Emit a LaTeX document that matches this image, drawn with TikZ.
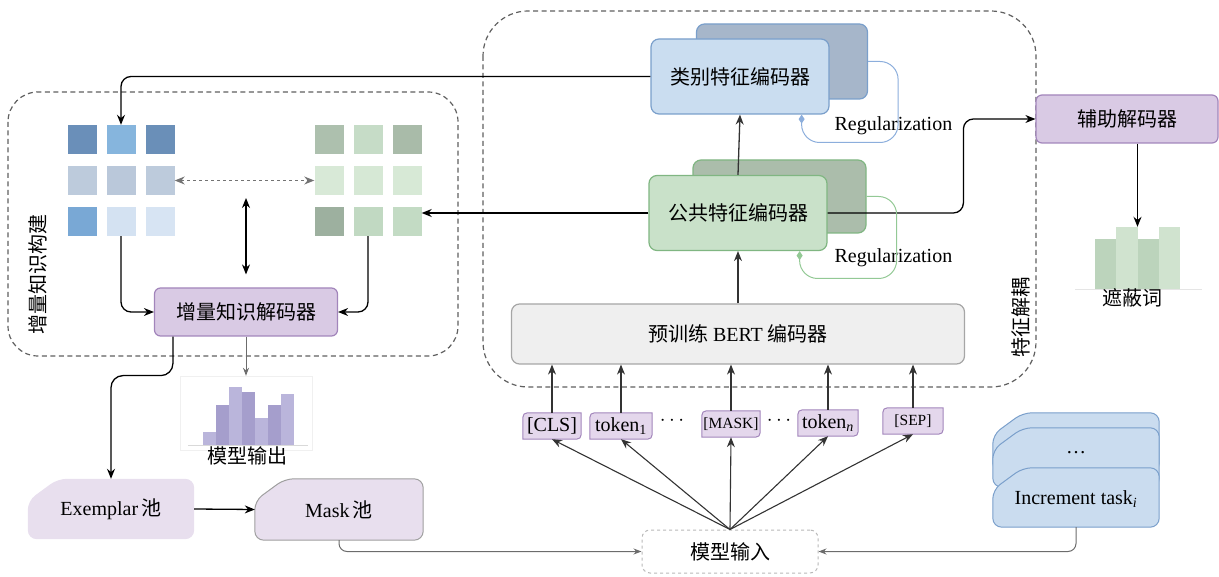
\documentclass[tikz,border=0pt]{standalone}
\usepackage{fontspec}
\setmainfont{Liberation Serif}
\newfontfamily\cjk{Noto Sans CJK SC}
\usepackage{xcolor}
\usepackage{tikz}
\usetikzlibrary{arrows.meta,positioning,calc,backgrounds}

\definecolor{clslight}{HTML}{CADDF0}
\definecolor{clsdark}{HTML}{A6B6CA}
\definecolor{clsline}{HTML}{7A9FCB}
\definecolor{comlight}{HTML}{C9E1C9}
\definecolor{comdark}{HTML}{ABBDAB}
\definecolor{comline}{HTML}{80B682}
\definecolor{decfill}{HTML}{D9CAE4}
\definecolor{decline}{HTML}{A285BB}
\definecolor{tokfill}{HTML}{E4D7EC}
\definecolor{poolfill}{HTML}{E8DFEE}
\definecolor{taskfill}{HTML}{CADCEF}
\definecolor{bertfill}{HTML}{EFEFEF}
\definecolor{regblue}{HTML}{8CAEDC}
\definecolor{reggreen}{HTML}{93C995}
\definecolor{histA}{HTML}{BAB5DB}
\definecolor{histB}{HTML}{A59ECC}
\definecolor{mhA}{HTML}{BCD4BC}
\definecolor{mhB}{HTML}{D0E3CF}
\definecolor{lb11}{HTML}{6A8FB9}
\definecolor{lb12}{HTML}{86B5DD}
\definecolor{lb13}{HTML}{6A8FB8}
\definecolor{lb21}{HTML}{BDCBDC}
\definecolor{lb22}{HTML}{BAC8DA}
\definecolor{lb23}{HTML}{BDCBDC}
\definecolor{lb31}{HTML}{79A8D5}
\definecolor{lb32}{HTML}{D4E2F2}
\definecolor{lb33}{HTML}{D7E4F3}
\definecolor{gr11}{HTML}{ADC0AE}
\definecolor{gr12}{HTML}{C6DCC7}
\definecolor{gr13}{HTML}{A9BBA9}
\definecolor{gr21}{HTML}{D8E9D7}
\definecolor{gr22}{HTML}{D6E8D5}
\definecolor{gr23}{HTML}{D7E9D6}
\definecolor{gr31}{HTML}{9DB09F}
\definecolor{gr32}{HTML}{C1D9C2}
\definecolor{gr33}{HTML}{C3DBC4}

\begin{document}
\begin{tikzpicture}[
  x=1pt,y=-1pt,
  every node/.style={font=\fontsize{20}{23}\selectfont,align=center},
  group/.style={draw=gray!75!black,dash pattern=on 5pt off 3.5pt,line width=1.2pt},
  encbox/.style={draw,rounded corners=8pt,line width=1.2pt,minimum width=178pt,minimum height=75pt},
  decbox/.style={draw=decline,fill=decfill,rounded corners=6pt,line width=1.2pt,minimum height=48pt},
  cell/.style={minimum size=29pt,inner sep=0pt},
  tokbox/.style={minimum height=26pt,inner sep=1pt},
  tokshape/.style={draw=decline,fill=tokfill,line width=1pt},
  poolshape/.style={rounded corners=9pt},
  arrow/.style={-{Stealth[length=10pt,width=8pt]},line width=1.3pt},
  garrow/.style={-{Stealth[length=8pt,width=6pt]},line width=1pt,draw=gray!85!black},
  reg/.style={line width=1pt,rounded corners=18pt,-{Diamond[length=9pt,width=6pt]}}
]
\useasboundingbox (0,0) rectangle (1219,577);

\draw[group,rounded corners=30pt] (8,92) rectangle (458,356);
\draw[group,rounded corners=45pt] (483,11) rectangle (1036,387);
\node[rotate=90] (lbuild) at (38,275) {\cjk 增量知识构建};
\node[rotate=90] (lsplit) at (1021,318) {\cjk 特征解耦};

\foreach \r in {1,2,3}
  \foreach \c in {1,2,3} {
    \node[cell,fill=lb\r\c] (lg-\r-\c) at ({43+39*\c},{98.5+41*\r}) {};
    \node[cell,fill=gr\r\c] (rg-\r-\c) at ({290+39*\c},{98.5+41*\r}) {};
  }

\node[decbox,minimum width=183pt] (dec) at (246,312) {\cjk 增量知识解码器};

\node[encbox,draw=clsline,fill=clsdark,minimum width=171pt] (clsback) at (782,61.5) {};
\node[encbox,draw=clsline,fill=clslight] (clsenc) at (740,76.5) {\cjk 类别特征编码器};
\node[encbox,draw=comline,fill=comdark,minimum width=173pt,minimum height=73pt] (comback) at (779.5,196.5) {};
\node[encbox,draw=comline,fill=comlight] (comenc) at (738,213) {\cjk 公共特征编码器};
\node[anchor=west] (regA) at (831,126) {Regularization};
\node[anchor=west] (regB) at (831,258) {Regularization};

\node[draw=gray!70,fill=bertfill,rounded corners=8pt,line width=1.2pt,minimum width=453pt,minimum height=60pt] (bert) at (738,334) {{\cjk 预训练} BERT {\cjk 编码器}};

\node[tokbox,minimum width=58pt] (tcls) at (552,426) {[CLS]};
\node[tokbox,minimum width=62pt] (tone) at (621,426) {token\textsubscript{1}};
\node (dotsA) at (672,421) {$\cdots$};
\node[tokbox,minimum width=58pt,font=\fontsize{15.5}{18}\selectfont] (tmask) at (731,424) {[MASK]};
\node (dotsB) at (779,421) {$\cdots$};
\node[tokbox,minimum width=60pt] (tn) at (828,423) {token\textsubscript{\itshape n}};
\node[tokbox,minimum width=60pt,font=\fontsize{15.5}{18}\selectfont] (tsep) at (913,421) {[SEP]};

\node[draw=gray!55,dashed,rounded corners=8pt,line width=1pt,minimum width=176pt,minimum height=43pt] (input) at (730,551.5) {\cjk 模型输入};

\node[minimum width=166pt,minimum height=60pt] (expool) at (111,509) {Exemplar\,{\cjk 池}};
\node[minimum width=168pt,minimum height=61pt] (maskpool) at (339,509.5) {Mask\,{\cjk 池}};
\node[minimum width=166pt,minimum height=59pt,text depth=-4pt] (task) at (1076,497.5) {Increment task\textsubscript{\itshape i}};
\node (taskdots) at (1076,453) {\ldots};

\node[decbox,minimum width=182pt] (aux) at (1127,119) {\cjk 辅助解码器};

\node[draw=gray!12,minimum width=132pt,minimum height=74pt,inner sep=0pt] (outhist) at (246,413) {};
\foreach \i/\t/\c in {0/432/histA,1/405/histB,2/387/histA,3/392/histB,4/418/histA,5/405/histB,6/394/histA}
  \fill[\c] ({203+13*\i},\t) rectangle ({216+13*\i},445);
\draw[gray!30] (188,445) -- (308,445);
\node (outlbl) at (247,456) {\cjk 模型输出};

\node[minimum width=85pt,minimum height=62pt,inner sep=0pt] (maskhist) at (1137.5,258) {};
\foreach \i/\t/\c in {0/239/mhA,1/227/mhB,2/239/mhA,3/227/mhB}
  \fill[\c] ({1095+21.25*\i},\t) rectangle ({1116.25+21.25*\i},289);
\draw[gray!20] (1075,289) -- (1202,289);
\node (masklbl) at (1132,298) {\cjk 遮蔽词};

\begin{scope}[on background layer]
  \foreach \t in {tcls,tone,tmask,tn,tsep}
    \draw[tokshape] (\t.south west) -- ([yshift=-10pt]\t.north west) .. controls (\t.north west) .. ([xshift=10pt]\t.north west) -- (\t.north east) -- ([yshift=10pt]\t.south east) .. controls (\t.south east) .. ([xshift=-10pt]\t.south east) -- cycle;
  \fill[poolshape,poolfill] (expool.south west) -- ([yshift=-22pt]expool.north west) -- ([xshift=30pt]expool.north west) -- (expool.north east) -- (expool.south east) -- cycle;
  \draw[poolshape,draw=gray!75,fill=poolfill,line width=1pt] (maskpool.south west) -- ([yshift=-22pt]maskpool.north west) -- ([xshift=30pt]maskpool.north west) -- (maskpool.north east) -- (maskpool.south east) -- cycle;
  \foreach \s/\u in {55/33,40/18,0/-22}
    \draw[poolshape,draw=clsline,fill=taskfill,line width=1pt] ([yshift=\s pt]task.south west) -- ([yshift=\u pt]task.north west) -- ([xshift=30pt,yshift=\s pt]task.north west) -- ([yshift=\s pt]task.north east) -- ([yshift=\s pt]task.south east) -- cycle;
\end{scope}

\draw[arrow,rounded corners=10pt] (clsenc.west) -| (lg-1-2.north);
\draw[arrow] (comenc.west) -- (comenc.west -| rg-3-3.east);
\draw[arrow,rounded corners=10pt] (lg-3-2.south) |- (dec.west);
\draw[arrow,rounded corners=10pt] (rg-3-2.south) |- (dec.east);
\draw[{Stealth[length=10pt,width=8pt]}-{Stealth[length=10pt,width=8pt]},gray!90!black,dashed,line width=1.1pt] (lg-2-3.east) -- (rg-2-1.west);
\coordinate (link) at (246,198);
\draw[{Stealth[length=10pt,width=8pt]}-{Stealth[length=10pt,width=8pt]},line width=1.3pt] (link) -- ([yshift=13pt]dec.north);
\draw[arrow,rounded corners=12pt] ([xshift=19pt]dec.south west) -- ++(0,39) -| (expool.north);
\draw[garrow] (dec.south) -- (outhist.north);
\draw[arrow] (expool.east) -- (maskpool.west);
\draw[garrow,rounded corners=8pt] (maskpool.south) |- (input.west);
\draw[garrow,rounded corners=8pt] (task.south) |- (input.east);
\foreach \t in {tcls,tone,tmask,tn,tsep} {
  \draw[arrow,line width=1.1pt,draw=black!80] (input.north) -- (\t.south);
  \draw[arrow,line width=1.1pt,draw=black!80] (\t.north) -- (\t.north |- bert.south);
}
\draw[arrow,draw=black!80] (bert.north) -- (comenc.south);
\draw[arrow,draw=black!80] (comenc.north) -- (clsenc.south);
\draw[arrow,rounded corners=10pt] (comenc.east) -| ([xshift=-72pt]aux.west) -- (aux.west);
\draw[arrow] (aux.south -| maskhist.north) -- (maskhist.north);
\draw[reg,draw=regblue] (clsback.east) -| ++(30,81) -| ([xshift=-28pt]clsenc.south east);
\draw[reg,draw=reggreen] (comback.east) -| ++(30,82) -| ([xshift=-28pt]comenc.south east);
\end{tikzpicture}
\end{document}
